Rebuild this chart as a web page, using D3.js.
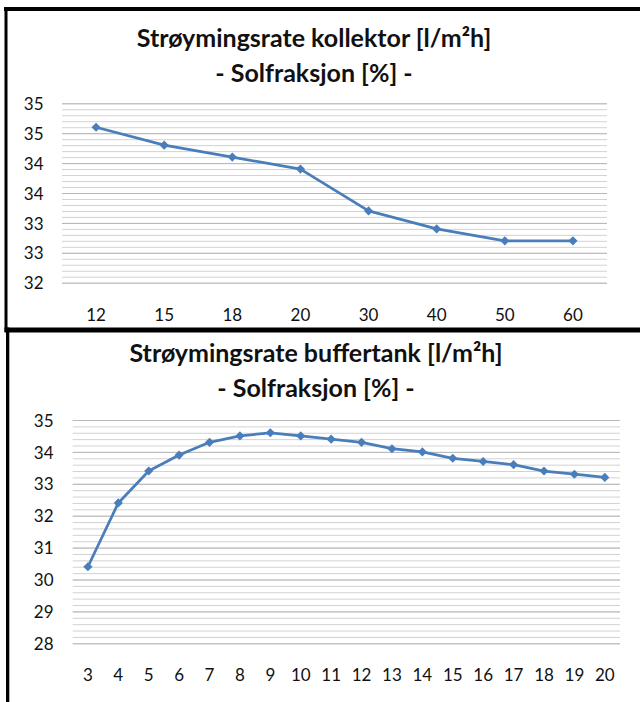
<!DOCTYPE html>
<html>
<head>
<meta charset="utf-8">
<script src="https://cdn.jsdelivr.net/npm/d3@7"></script>
<style>
  html, body { margin: 0; padding: 0; background: #fff; }
  svg { display: block; }
  text { font-family: Lato, "Open Sans", sans-serif; fill: #111; }
</style>
</head>
<body>
<svg id="chart" width="640" height="702"></svg>
<script>
// ---- Data ----
const kollektorTitle = ["Strøymingsrate kollektor [l/m²h]", "- Solfraksjon [%] -"];
const kollektorCategories = ["12", "15", "18", "20", "30", "40", "50", "60"];
const kollektorValues = [34.6, 34.3, 34.1, 33.9, 33.2, 32.9, 32.7, 32.7];
const kollektorYTicks = [32, 32.5, 33, 33.5, 34, 34.5, 35];

const bufferTitle = ["Strøymingsrate buffertank [l/m²h]", "- Solfraksjon [%] -"];
const bufferCategories = ["3", "4", "5", "6", "7", "8", "9", "10", "11", "12", "13", "14", "15", "16", "17", "18", "19", "20"];
const bufferValues = [30.4, 32.4, 33.4, 33.9, 34.3, 34.5, 34.6, 34.5, 34.4, 34.3, 34.1, 34.0, 33.8, 33.7, 33.6, 33.4, 33.3, 33.2];
const bufferYTicks = [28, 29, 30, 31, 32, 33, 34, 35];

const svg = d3.select("#chart");
svg.append("rect").attr("width", 640).attr("height", 702).attr("fill", "#fff");

const lineColor = "#4a7ebb";

function drawChart(cfg) {
  const g = svg.append("g");
  cfg.title.forEach((t, i) => {
    g.append("text")
      .attr("x", cfg.titleX)
      .attr("y", cfg.titleY[i])
      .attr("text-anchor", "middle")
      .attr("dominant-baseline", "central")
      .attr("font-weight", "bold")
      .attr("font-size", cfg.titleSize)
      .text(t);
  });

  const x = d3.scaleBand().domain(cfg.categories).range([cfg.left, cfg.right]).padding(0);
  const y = d3.scaleLinear().domain(cfg.domain).range([cfg.bottom, cfg.top]);
  const w = cfg.right - cfg.left;

  const minor = d3.range(cfg.domain[0], cfg.domain[1] + 1e-9, cfg.minorStep);
  g.append("g")
    .attr("transform", `translate(${cfg.left},0)`)
    .call(d3.axisLeft(y).tickValues(minor).tickSize(-w).tickFormat(""))
    .call(a => a.select(".domain").remove())
    .call(a => a.selectAll("line").attr("stroke", "#d2d2d2").attr("stroke-width", 1));
  g.append("g")
    .attr("transform", `translate(${cfg.left},0)`)
    .call(d3.axisLeft(y).tickValues(cfg.yTicks).tickSize(-w).tickFormat(""))
    .call(a => a.select(".domain").remove())
    .call(a => a.selectAll("line").attr("stroke", "#b8b8b8").attr("stroke-width", 1));

  g.append("g")
    .attr("transform", `translate(${cfg.yLabelX},0)`)
    .call(d3.axisLeft(y).tickValues(cfg.yTicks).tickSize(0).tickPadding(0).tickFormat(d3.format(".0f")))
    .call(a => a.select(".domain").remove())
    .call(a => a.selectAll("text")
      .attr("font-size", cfg.labelSize)
      .attr("font-family", "Lato, 'Open Sans', sans-serif")
      .attr("fill", "#111")
      .attr("dy", "0.36em"));

  g.append("g")
    .attr("transform", `translate(0,${cfg.xLabelY})`)
    .call(d3.axisBottom(x).tickSize(0).tickPadding(0))
    .call(a => a.select(".domain").remove())
    .call(a => a.selectAll("text")
      .attr("font-size", cfg.labelSize)
      .attr("font-family", "Lato, 'Open Sans', sans-serif")
      .attr("fill", "#111")
      .attr("dy", "0.36em")
      .attr("y", 0));

  const cx = c => x(c) + x.bandwidth() / 2;
  const data = cfg.categories.map((c, i) => ({ c, v: cfg.values[i] }));

  g.append("path")
    .datum(data)
    .attr("fill", "none")
    .attr("stroke", lineColor)
    .attr("stroke-width", 2.75)
    .attr("stroke-linejoin", "round")
    .attr("d", d3.line().x(d => cx(d.c)).y(d => y(d.v)));

  const marker = d3.symbol().type(d3.symbolSquare).size(42);
  g.selectAll(".pt")
    .data(data)
    .join("path")
    .attr("class", "pt")
    .attr("transform", d => `translate(${cx(d.c)},${y(d.v)}) rotate(45)`)
    .attr("d", marker)
    .attr("fill", lineColor);
}

drawChart({
  title: kollektorTitle, titleX: 314, titleY: [37, 72], titleSize: 25,
  categories: kollektorCategories, values: kollektorValues,
  yTicks: kollektorYTicks, domain: [32, 35], minorStep: 0.1,
  left: 62, right: 607, top: 103.3, bottom: 282.7,
  yLabelX: 43.5, xLabelY: 315, labelSize: 17
});

drawChart({
  title: bufferTitle, titleX: 316, titleY: [352, 387], titleSize: 25,
  categories: bufferCategories, values: bufferValues,
  yTicks: bufferYTicks, domain: [28, 35], minorStep: 0.2,
  left: 72.7, right: 620, top: 420, bottom: 643.3,
  yLabelX: 53.5, xLabelY: 675, labelSize: 17
});

const frame = svg.append("g").attr("fill", "#000");
frame.append("rect").attr("x", 4).attr("y", 7).attr("width", 636).attr("height", 4);
frame.append("rect").attr("x", 4.5).attr("y", 7).attr("width", 3).attr("height", 325);
frame.append("rect").attr("x", 4.5).attr("y", 327.5).attr("width", 636).attr("height", 5);
frame.append("rect").attr("x", 6).attr("y", 327.5).attr("width", 3.3).attr("height", 375);
</script>
</body>
</html>
